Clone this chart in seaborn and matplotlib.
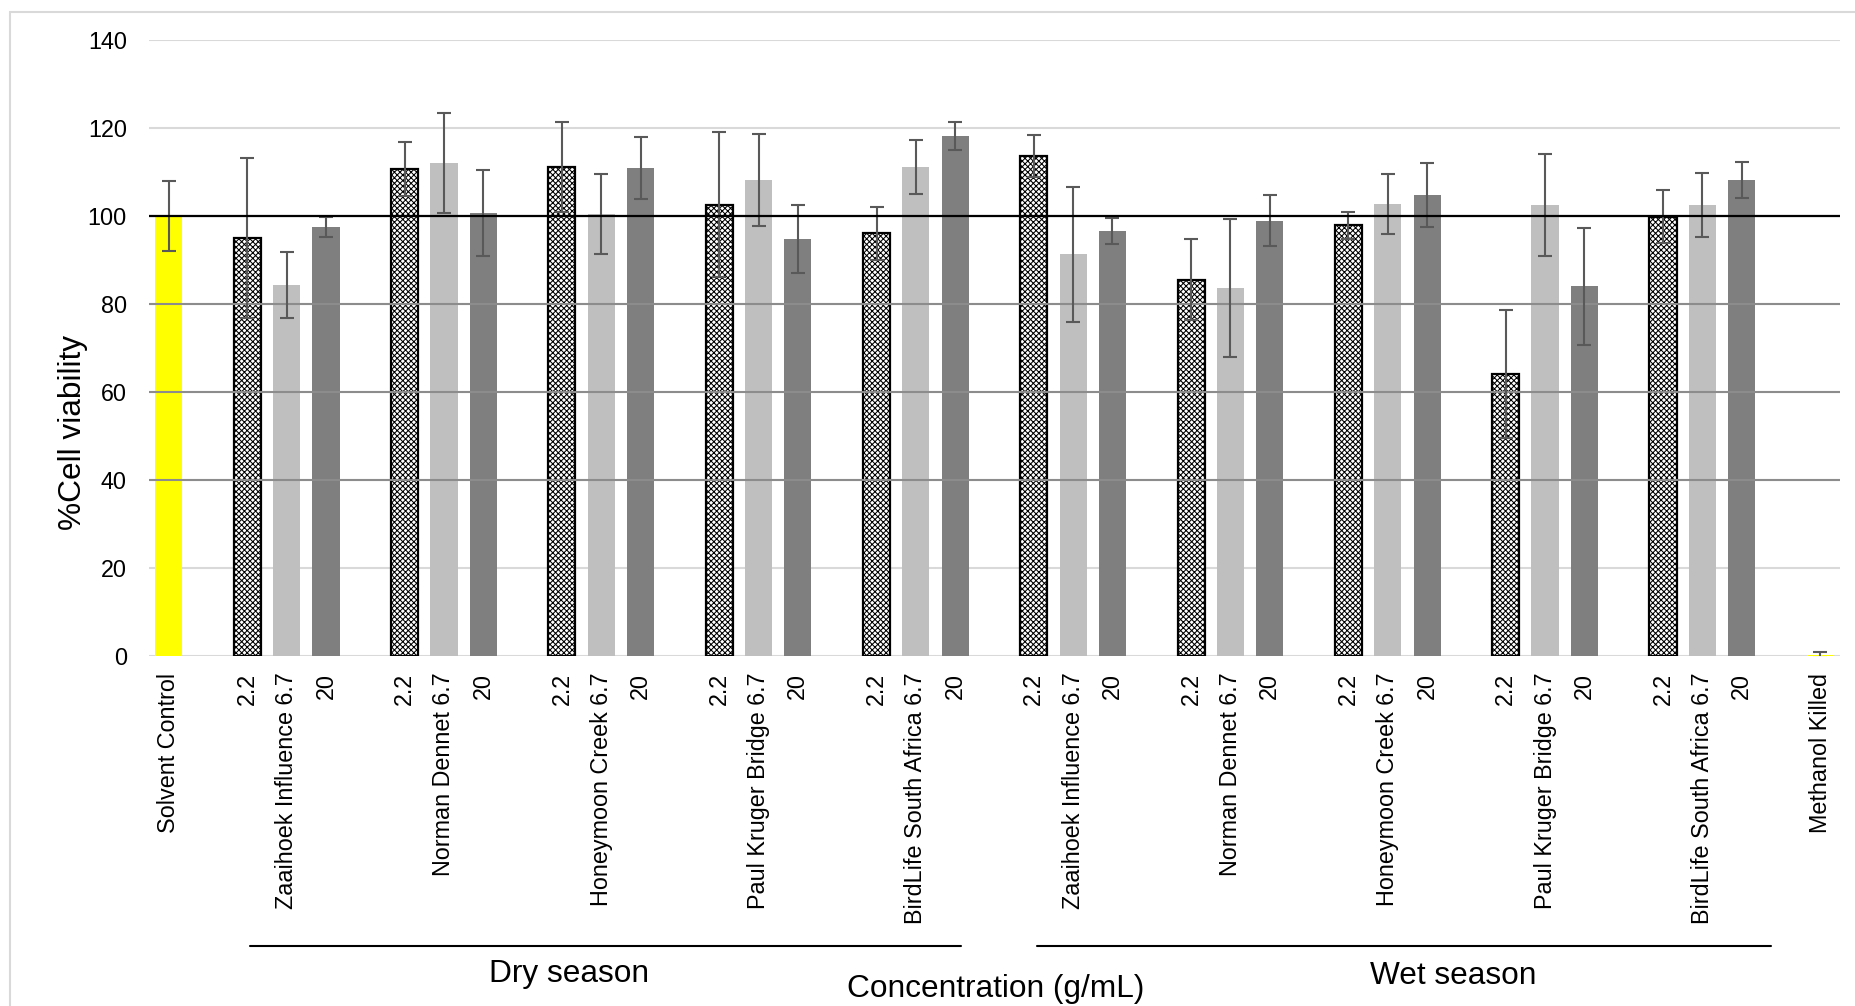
import matplotlib
matplotlib.use("Agg")
import matplotlib.pyplot as plt
from matplotlib.patches import Rectangle
from matplotlib.lines import Line2D
import matplotlib.transforms as mtransforms
import numpy as np
import pandas as pd
import seaborn as sns

# ---- data -------------------------------------------------------------
sites = ["Zaaihoek Influence", "Norman Dennet", "Honeymoon Creek",
         "Paul Kruger Bridge", "BirdLife South Africa"]
seasons = ["Dry season", "Wet season"]
concentrations = ["2.2", "6.7", "20"]

# mean % viability per site, columns follow `concentrations`
dry_means = [[95.0, 84.4, 97.5],
             [110.7, 112.0, 100.6],
             [111.2, 100.4, 110.9],
             [102.6, 108.2, 94.8],
             [96.1, 111.1, 118.1]]
dry_sd = [[18.2, 7.5, 2.3],
          [6.2, 11.4, 9.8],
          [10.2, 9.1, 7.0],
          [16.5, 10.4, 7.7],
          [6.0, 6.2, 3.2]]
wet_means = [[113.7, 91.3, 96.6],
             [85.5, 83.6, 98.9],
             [97.9, 102.7, 104.7],
             [64.1, 102.5, 84.0],
             [99.8, 102.5, 108.2]]
wet_sd = [[4.8, 15.4, 3.0],
          [9.2, 15.7, 5.8],
          [3.1, 6.9, 7.3],
          [14.6, 11.5, 13.3],
          [6.0, 7.3, 4.0]]

controls = ["Solvent Control", "Methanol Killed"]
control_means = [100.0, 0.2]
control_sd = [8.0, 0.6]

y_ticks = [0, 20, 40, 60, 80, 100, 120, 140]

# ---- build long table and slot order ------------------------------------
rows = []
order = []
tick_labels = []

def add_gap(i):
    order.append(f"gap{i}")
    tick_labels.append("")

rows.append(dict(key=controls[0], value=control_means[0], sd=control_sd[0], kind="control"))
order.append(controls[0]); tick_labels.append(controls[0])
gap_id = 0
season_data = {seasons[0]: (dry_means, dry_sd), seasons[1]: (wet_means, wet_sd)}
season_slots = {}
for season in seasons:
    means, sds = season_data[season]
    season_slots[season] = []
    for s_i, site in enumerate(sites):
        add_gap(gap_id); gap_id += 1
        for c_i, conc in enumerate(concentrations):
            key = f"{season}|{site}|{conc}"
            rows.append(dict(key=key, value=means[s_i][c_i], sd=sds[s_i][c_i], kind=conc))
            season_slots[season].append(len(order))
            order.append(key)
            tick_labels.append(f"{site} {conc}" if c_i == 1 else conc)
add_gap(gap_id)
rows.append(dict(key=controls[1], value=control_means[1], sd=control_sd[1], kind="control"))
order.append(controls[1]); tick_labels.append(controls[1])

df = pd.DataFrame(rows)
df["pos"] = [order.index(k) for k in df["key"]]

# ---- styling ------------------------------------------------------------
sns.set_theme(style="white")
plt.rcParams["font.family"] = ["Liberation Sans", "DejaVu Sans"]
plt.rcParams["hatch.linewidth"] = 0.75

W, H = 1856, 1006
fig = plt.figure(figsize=(W / 100, H / 100), dpi=100)
ax = fig.add_axes([149 / W, 1 - 656 / H, (1840 - 149) / W, (656 - 40) / H])

hue_order = ["control", "2.2", "6.7", "20"]
palette = {"control": "#ffff00", "2.2": "#ffffff", "6.7": "#bfbfbf", "20": "#7f7f7f"}

sns.barplot(data=df, x="key", y="value", hue="kind", order=order,
            hue_order=hue_order, palette=palette, dodge=False, width=0.69,
            errorbar=None, legend=False, saturation=1, ax=ax, zorder=2)

# checkered bars for the lowest concentration
for level, cont in zip(hue_order, ax.containers):
    for bar in cont:
        bar.set_linewidth(0)
        if level == "2.2":
            bar.set_hatch("xxxxxx")
            bar.set_edgecolor("black")
            bar.set_linewidth(1.6)

ax.errorbar(df["pos"], df["value"], yerr=df["sd"], fmt="none",
            ecolor="#595959", elinewidth=1.5, capsize=5, capthick=1.5, zorder=4)

ax.set_ylim(0, 140)
ax.set_xlim(-0.5, len(order) - 0.5)
ax.set_yticks(y_ticks)
ax.set_xticks(range(len(order)), labels=tick_labels, rotation=90)
ax.tick_params(axis="x", length=0, pad=12, labelsize=16.8, labelcolor="black")
ax.tick_params(axis="y", length=0, pad=16, labelsize=16.8, labelcolor="black")
for sp in ax.spines.values():
    sp.set_visible(False)

# gridlines: light ones behind the bars, darker ones and the 100 % line on top
ax.yaxis.grid(True, color="#d9d9d9", linewidth=1.5, zorder=0)
ax.set_axisbelow(True)
for lvl in (40, 60, 80):
    ax.axhline(lvl, color="#8c8c8c", linewidth=1.5, zorder=3)
ax.axhline(100, color="black", linewidth=1.6, zorder=5)
ax.axhline(0, color="#d9d9d9", linewidth=2, zorder=1)

ax.set_xlabel("")
ax.set_ylabel("%Cell viability", fontsize=22.8, color="black")
ax.yaxis.label.set_va("center")
ax.yaxis.set_label_coords((73 - 149) / (1840 - 149), (656 - 432) / 616)

fig.text(995.5 / W, 1 - 997 / H, "Concentration (g/mL)", fontsize=22.8,
         ha="center", va="baseline", color="black")

# season brackets
trans = mtransforms.blended_transform_factory(ax.transData, fig.transFigure)
bracket_y = 1 - 946 / H
season_text = {seasons[0]: (569, 982), seasons[1]: (1453.5, 984)}
season_end_pad = {seasons[0]: (0.07, 0.16), seasons[1]: (0.07, 0.75)}
for season in seasons:
    s0, s1 = season_slots[season][0], season_slots[season][-1]
    p0, p1 = season_end_pad[season]
    fig.add_artist(Line2D([s0 + p0, s1 + p1], [bracket_y, bracket_y],
                          transform=trans, color="black", linewidth=1.5))
    tx, ty = season_text[season]
    fig.text(tx / W, 1 - ty / H, season, fontsize=22.8, ha="center",
             va="baseline", color="black")

# chart-area border
fig.add_artist(Rectangle((10 / W, -0.05), 1.1, 1 - 12 / H + 0.05,
                         transform=fig.transFigure, fill=False,
                         edgecolor="#d9d9d9", linewidth=1.5))

fig.savefig("out.png", dpi=100, facecolor="white")
